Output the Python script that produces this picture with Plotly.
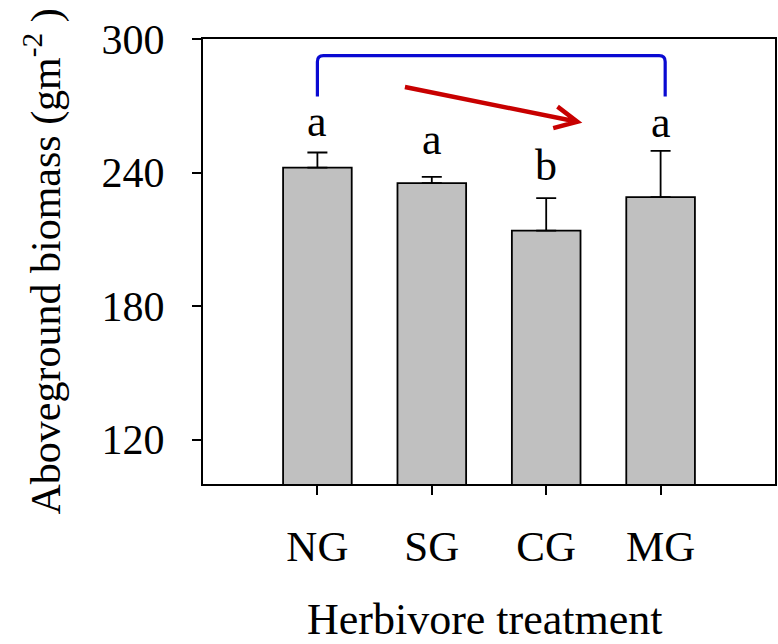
import math
import plotly.graph_objects as go

# Aboveground biomass by herbivore treatment (mean + SE)
treatments = ["NG", "SG", "CG", "MG"]
biomass_mean = [242.2, 235.2, 213.9, 228.9]
biomass_se = [6.8, 2.8, 14.6, 20.8]
sig_letters = ["a", "a", "b", "a"]
y_ticks = [120, 180, 240, 300]

FONT = "Liberation Serif, Times New Roman, serif"
W, H = 778, 644
M = dict(l=203, r=1, t=39, b=160)
X_RANGE = [0, 5]
Y_RANGE = [100, 300]

xpos = list(range(1, len(treatments) + 1))

fig = go.Figure()
fig.add_trace(go.Bar(
    x=xpos,
    y=biomass_mean,
    width=0.6,
    marker=dict(color="#c0c0c0", line=dict(color="black", width=1.8)),
    error_y=dict(type="data", symmetric=False, array=biomass_se,
                 arrayminus=[0] * len(biomass_se),
                 color="black", thickness=1.8, width=10),
    showlegend=False,
    hoverinfo="skip",
))

# significance letters above the error bars
letter_shift = [4, 11, 6, 2]
for xi, m, se, lab, dy in zip(xpos, biomass_mean, biomass_se, sig_letters, letter_shift):
    fig.add_annotation(x=xi, y=m + se, text=lab, showarrow=False,
                       yanchor="bottom", yshift=dy,
                       font=dict(family=FONT, size=44, color="black"))

# pixel scale helpers for drawing decorations
px_x = (W - M["l"] - M["r"]) / (X_RANGE[1] - X_RANGE[0])
px_y = (H - M["t"] - M["b"]) / (Y_RANGE[1] - Y_RANGE[0])

# blue bracket joining NG and MG
bx0, bx1 = 1.0, 4.04
by_top, by_end = 292.5, 274.2
rx, ry = 6 / px_x, 6 / px_y
bracket = (f"M {bx0},{by_end} L {bx0},{by_top - ry} Q {bx0},{by_top} {bx0 + rx},{by_top} "
           f"L {bx1 - rx},{by_top} Q {bx1},{by_top} {bx1},{by_top - ry} L {bx1},{by_end}")
fig.add_shape(type="path", path=bracket, xref="x", yref="y",
              line=dict(color="#0a0ad2", width=3.2))

# red trend arrow with an open chevron head
tail = (1.765, 278.4)
tip = (3.272, 262.8)
dxp = (tip[0] - tail[0]) * px_x
dyp = -(tip[1] - tail[1]) * px_y
ang = math.atan2(dyp, dxp)
arm_len, arm_ang = 25, math.radians(26)
arms = []
for s in (1, -1):
    a = ang + math.pi + s * arm_ang
    ax_ = tip[0] + arm_len * math.cos(a) / px_x
    ay_ = tip[1] - arm_len * math.sin(a) / px_y
    arms.append((ax_, ay_))
arrow = (f"M {tail[0]},{tail[1]} L {tip[0]},{tip[1]} "
         f"M {arms[0][0]},{arms[0][1]} L {tip[0]},{tip[1]} L {arms[1][0]},{arms[1][1]}")
fig.add_shape(type="path", path=arrow, xref="x", yref="y",
              line=dict(color="#c80000", width=4.5))

# axis titles
fig.add_annotation(xref="paper", yref="paper", x=0, y=0.5, xshift=-160,
                   text="Aboveground biomass (gm<sup>-2</sup> )", textangle=-90,
                   showarrow=False, xanchor="center", yanchor="middle",
                   font=dict(family=FONT, size=42, color="black"))
fig.add_annotation(xref="paper", yref="paper", x=0.5, y=0, yshift=-135, xshift=-4,
                   text="Herbivore treatment", showarrow=False,
                   xanchor="center", yanchor="middle",
                   font=dict(family=FONT, size=44, color="black"))

fig.update_layout(
    width=W, height=H, margin=M,
    plot_bgcolor="white", paper_bgcolor="white",
    font=dict(family=FONT, color="black"),
    bargap=0.4,
)
fig.update_xaxes(range=X_RANGE, tickvals=xpos, ticktext=treatments,
                 showline=True, linecolor="black", linewidth=2, mirror=True,
                 ticks="outside", ticklen=9, tickwidth=2, tickcolor="black",
                 showgrid=False, zeroline=False, ticklabelstandoff=14,
                 tickfont=dict(family=FONT, size=43, color="black"))
fig.update_yaxes(range=Y_RANGE, tickvals=y_ticks,
                 showline=True, linecolor="black", linewidth=2, mirror=True,
                 ticks="outside", ticklen=9, tickwidth=2, tickcolor="black",
                 showgrid=False, zeroline=False, ticklabelstandoff=19,
                 tickfont=dict(family=FONT, size=42, color="black"))

fig.write_html("out.html")
